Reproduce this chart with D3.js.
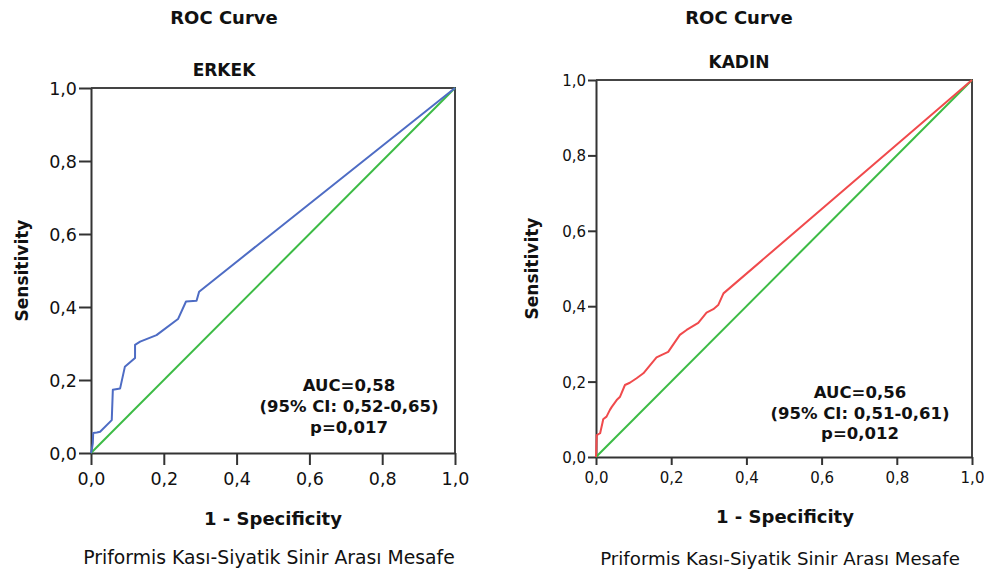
<!DOCTYPE html>
<html>
<head>
<meta charset="utf-8">
<script src="https://cdnjs.cloudflare.com/ajax/libs/d3/7.8.5/d3.min.js"></script>
<style>
  body { margin: 0; background: #fff; }
  text { font-family: "DejaVu Sans", Verdana, sans-serif; fill: #111; }
</style>
</head>
<body>
<div id="chartArea"></div>
<script>
// ROC points (1 - specificity, sensitivity)
var erkekFpr = [0, 0.002, 0.005, 0.006, 0.016, 0.025, 0.057, 0.06, 0.08, 0.093, 0.121, 0.121, 0.135, 0.18, 0.239, 0.261, 0.29, 0.297, 1];
var erkekTpr = [0, 0.008, 0.027, 0.055, 0.056, 0.058, 0.09, 0.173, 0.177, 0.236, 0.26, 0.296, 0.305, 0.323, 0.367, 0.415, 0.417, 0.442, 1];

var kadinFpr = [0, 0.002, 0.011, 0.018, 0.019, 0.028, 0.037, 0.042, 0.055, 0.064, 0.077, 0.09, 0.108, 0.126, 0.144, 0.161, 0.175, 0.192, 0.223, 0.241, 0.272, 0.294, 0.312, 0.325, 0.339, 1];
var kadinTpr = [0, 0.058, 0.063, 0.094, 0.1, 0.107, 0.125, 0.133, 0.151, 0.16, 0.191, 0.197, 0.209, 0.222, 0.244, 0.264, 0.271, 0.279, 0.324, 0.337, 0.356, 0.383, 0.392, 0.403, 0.434, 1];

var refLine = [0, 1];
var tickValues = [0, 0.2, 0.4, 0.6, 0.8, 1];
var tickLabels = ['0,0', '0,2', '0,4', '0,6', '0,8', '1,0'];

var erkekStats = ['AUC=0,58', '(95% CI: 0,52-0,65)', 'p=0,017'];
var kadinStats = ['AUC=0,56', '(95% CI: 0,51-0,61)', 'p=0,012'];

var mainTitle = 'ROC Curve';
var xTitle = '1 - Specificity';
var yTitle = 'Sensitivity';
var footer = 'Priformis Kası-Siyatik Sinir Arası Mesafe';

var w = 984, h = 571;

var svg = d3.select('#chartArea').append('svg')
    .attr('width', w)
    .attr('height', h);

function drawPanel(p) {
    var xScale = d3.scaleLinear().domain([0, 1]).range([p.left, p.right]);
    var yScale = d3.scaleLinear().domain([0, 1]).range([p.bottom, p.top]);
    var g = svg.append('g');

    // frame (top + right)
    g.append('path')
        .attr('d', 'M' + p.left + ',' + p.top + 'H' + p.right + 'V' + p.bottom)
        .attr('fill', 'none')
        .attr('stroke', '#444')
        .attr('stroke-width', 2);

    var xAxis = d3.axisBottom(xScale)
        .tickValues(tickValues)
        .tickSize(p.tick)
        .tickSizeOuter(0)
        .tickFormat(function (d, i) { return tickLabels[i]; });
    var yAxis = d3.axisLeft(yScale)
        .tickValues(tickValues)
        .tickSize(p.tick)
        .tickSizeOuter(0)
        .tickFormat(function (d, i) { return tickLabels[i]; });

    var gx = g.append('g')
        .attr('transform', 'translate(0,' + p.bottom + ')')
        .call(xAxis);
    var gy = g.append('g')
        .attr('transform', 'translate(' + p.left + ',0)')
        .call(yAxis);

    [gx, gy].forEach(function (ax) {
        ax.select('.domain').attr('stroke', '#333').attr('stroke-width', 2);
        ax.selectAll('.tick line').attr('stroke', '#333').attr('stroke-width', 2);
        ax.selectAll('.tick text')
            .style('font-family', '"DejaVu Sans", sans-serif')
            .style('font-size', p.tickFont + 'px')
            .attr('fill', '#222');
    });
    gx.selectAll('.tick text').attr('y', p.tick + 5).attr('dy', '0.85em');
    gy.selectAll('.tick text').attr('x', -p.tick - 2).attr('dy', '0.36em');

    var line = d3.line()
        .x(function (d) { return xScale(d[0]); })
        .y(function (d) { return yScale(d[1]); });

    g.append('path')
        .datum(refLine.map(function (v) { return [v, v]; }))
        .attr('d', line)
        .attr('fill', 'none')
        .attr('stroke', p.refColor)
        .attr('stroke-width', 2);

    g.append('path')
        .datum(p.fpr.map(function (v, i) { return [v, p.tpr[i]]; }))
        .attr('d', line)
        .attr('fill', 'none')
        .attr('stroke', p.color)
        .attr('stroke-width', 2)
        .attr('stroke-linejoin', 'round');

    // titles
    g.append('text')
        .attr('x', p.titleX).attr('y', 24)
        .attr('text-anchor', 'middle')
        .style('font-weight', 'bold').style('font-size', '18px')
        .text(mainTitle);
    g.append('text')
        .attr('x', p.titleX).attr('y', p.subY)
        .attr('text-anchor', 'middle')
        .style('font-weight', 'bold').style('font-size', '17px')
        .text(p.group);

    g.append('text')
        .attr('x', (p.left + p.right) / 2 + p.xTitleShift).attr('y', p.xTitleY)
        .attr('text-anchor', 'middle')
        .style('font-weight', 'bold').style('font-size', '18px')
        .text(xTitle);

    g.append('text')
        .attr('transform', 'translate(' + p.yTitleX + ',' + (p.top + p.bottom) / 2 + ') rotate(-90)')
        .attr('text-anchor', 'middle')
        .style('font-weight', 'bold').style('font-size', '17px')
        .text(yTitle);

    g.append('text')
        .attr('x', p.footX).attr('y', p.footY)
        .attr('text-anchor', 'middle')
        .style('font-size', p.footFont + 'px')
        .attr('fill', '#222')
        .text(footer);

    g.selectAll('.stat')
        .data(p.stats)
        .enter()
        .append('text')
        .attr('class', 'stat')
        .attr('x', p.statX)
        .attr('y', function (d, i) { return p.statY + i * p.statGap; })
        .attr('text-anchor', 'middle')
        .style('font-weight', 'bold')
        .style('font-size', p.statFont + 'px')
        .text(function (d) { return d; });
}

drawPanel({
    left: 91, right: 455, top: 88, bottom: 453, tick: 12, tickFont: 17.5,
    fpr: erkekFpr, tpr: erkekTpr, color: '#4e6cc4', refColor: '#3cbb45',
    group: 'ERKEK', titleX: 224, subY: 76,
    xTitleShift: 0, xTitleY: 525, yTitleX: 28,
    footX: 269, footY: 564, footFont: 18.8,
    stats: erkekStats, statX: 349, statY: 391, statGap: 21, statFont: 16.5
});

drawPanel({
    left: 596, right: 972, top: 80, bottom: 457, tick: 8, tickFont: 15,
    fpr: kadinFpr, tpr: kadinTpr, color: '#f04a4c', refColor: '#3cbb45',
    group: 'KADIN', titleX: 739, subY: 68,
    xTitleShift: 1, xTitleY: 523, yTitleX: 538,
    footX: 780, footY: 565, footFont: 18.2,
    stats: kadinStats, statX: 860, statY: 398, statGap: 20.5, statFont: 16.5
});
</script>
</body>
</html>
